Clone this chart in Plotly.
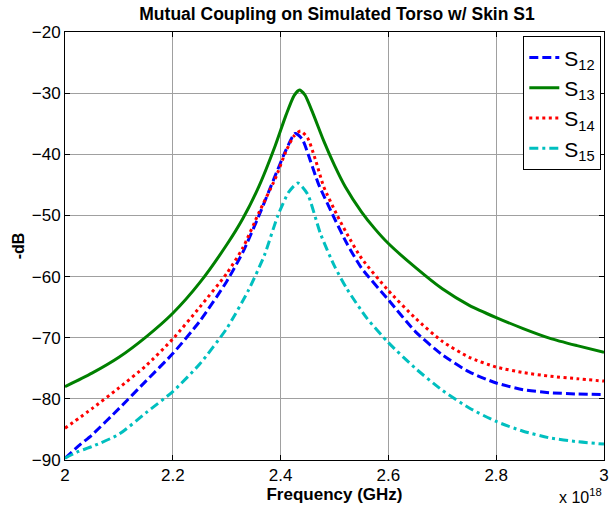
import plotly.graph_objects as go

# Frequency axis values (in units of 1e18, as displayed)
f_s12 = [2.00, 2.028, 2.05, 2.10, 2.15, 2.20, 2.25, 2.30, 2.33, 2.36, 2.39, 2.41, 2.427, 2.44, 2.455, 2.47, 2.50, 2.523, 2.55, 2.60, 2.65, 2.70, 2.75, 2.80, 2.85, 2.90, 2.95, 3.00]
s12 = [-89.7, -87.5, -85.9, -81.6, -77.1, -72.6, -67.3, -60.8, -56.0, -50.0, -43.5, -39.3, -36.6, -37.5, -41.0, -44.8, -50.5, -54.6, -58.6, -63.8, -69.0, -72.8, -75.6, -77.4, -78.5, -79.0, -79.2, -79.3]

f_s13 = [2.00, 2.05, 2.10, 2.15, 2.20, 2.25, 2.30, 2.33, 2.36, 2.39, 2.41, 2.425, 2.435, 2.445, 2.46, 2.48, 2.50, 2.52, 2.55, 2.575, 2.60, 2.65, 2.70, 2.75, 2.80, 2.85, 2.90, 2.95, 3.00]
s13 = [-78.0, -75.8, -73.2, -69.9, -66.0, -61.0, -54.8, -50.5, -45.2, -38.6, -33.6, -30.4, -29.5, -30.3, -33.3, -37.8, -41.8, -45.3, -49.4, -52.2, -54.6, -58.5, -62.0, -64.7, -66.7, -68.5, -70.1, -71.3, -72.4]

f_s14 = [2.00, 2.05, 2.10, 2.15, 2.20, 2.25, 2.30, 2.33, 2.36, 2.39, 2.41, 2.425, 2.437, 2.45, 2.465, 2.48, 2.505, 2.523, 2.55, 2.60, 2.65, 2.70, 2.75, 2.80, 2.85, 2.90, 2.95, 3.00]
s14 = [-84.8, -81.6, -78.2, -74.6, -70.2, -65.0, -59.5, -55.3, -49.5, -44.0, -39.5, -37.0, -36.2, -37.3, -41.0, -45.3, -50.0, -53.0, -57.0, -62.3, -66.8, -70.6, -73.2, -74.8, -75.7, -76.3, -76.7, -77.1]

f_s15 = [2.00, 2.025, 2.05, 2.10, 2.15, 2.20, 2.25, 2.30, 2.34, 2.37, 2.395, 2.415, 2.432, 2.45, 2.474, 2.50, 2.523, 2.56, 2.60, 2.65, 2.70, 2.75, 2.80, 2.85, 2.90, 2.95, 3.00]
s15 = [-89.7, -88.6, -87.8, -85.8, -82.3, -78.8, -74.3, -68.5, -62.3, -56.5, -50.0, -46.2, -44.7, -46.5, -53.0, -58.3, -62.0, -66.8, -70.8, -75.0, -78.6, -81.5, -83.7, -85.3, -86.4, -87.0, -87.4]

x_ticks = [2, 2.2, 2.4, 2.6, 2.8, 3]
x_tick_labels = ["2", "2.2", "2.4", "2.6", "2.8", "3"]
y_ticks = [-20, -30, -40, -50, -60, -70, -80, -90]

FONT = "Liberation Sans, Arial, sans-serif"

fig = go.Figure()
series = [
    (f_s12, s12, "S<sub>12</sub>", "#0000ff", "9px,4px"),
    (f_s13, s13, "S<sub>13</sub>", "#008000", "solid"),
    (f_s14, s14, "S<sub>14</sub>", "#ff0000", "3px,3.5px"),
    (f_s15, s15, "S<sub>15</sub>", "#00bfbf", "9px,4px,3px,4px"),
]
for fx, fy, name, col, dash in series:
    fig.add_trace(go.Scatter(x=fx, y=fy, name=name, mode="lines",
                             line=dict(color=col, width=3, dash=dash, shape="spline", smoothing=0.6)))

fig.update_layout(
    width=615, height=513,
    margin=dict(l=65, r=6, t=32, b=53),
    paper_bgcolor="white", plot_bgcolor="white",
    font=dict(family=FONT, color="black", size=16),
    title=dict(text="<b>Mutual Coupling on Simulated Torso w/ Skin S1</b>",
               x=(65 + 609) / 2 / 615, xanchor="center", y=0.972, yanchor="middle",
               font=dict(size=17.5, family=FONT)),
    legend=dict(x=0.995, y=0.99, xanchor="right", yanchor="top",
                bgcolor="white", bordercolor="black", borderwidth=1,
                font=dict(size=21, family=FONT), tracegroupgap=0),
    showlegend=True,
)
fig.update_xaxes(range=[2, 3], tickvals=x_ticks, ticktext=x_tick_labels,
                 showline=True, linecolor="black", linewidth=1, mirror="ticks",
                 ticks="inside", ticklen=5, tickcolor="black",
                 showgrid=True, gridcolor="#a0a0a0", gridwidth=1, zeroline=False,
                 tickfont=dict(size=17),
                 title=dict(text="<b>Frequency (GHz)</b>", font=dict(size=17), standoff=2))
fig.update_yaxes(range=[-90, -20], tickvals=y_ticks,
                 showline=True, linecolor="black", linewidth=1, mirror="ticks",
                 ticks="inside", ticklen=5, tickcolor="black",
                 showgrid=True, gridcolor="#a0a0a0", gridwidth=1, zeroline=False,
                 tickfont=dict(size=17),
                 title=dict(text="<b>-dB</b>", font=dict(size=16), standoff=3))

fig.add_annotation(text="x 10<sup>18</sup>", xref="paper", yref="paper",
                   x=1.0, y=-0.055, xanchor="right", yanchor="top",
                   showarrow=False, font=dict(size=16, family=FONT))

fig.write_html("out.html")
